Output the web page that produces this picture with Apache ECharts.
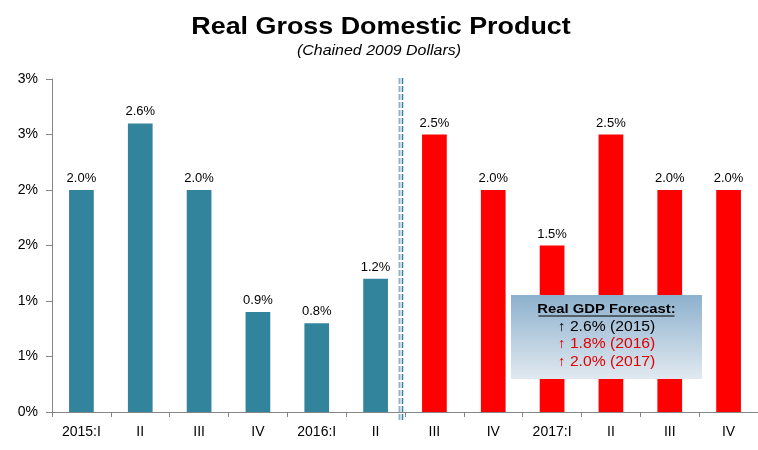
<!DOCTYPE html>
<html>
<head>
<meta charset="utf-8">
<script src="https://cdn.jsdelivr.net/npm/echarts@6/dist/echarts.min.js"></script>
<style>
html,body{margin:0;padding:0;background:#fff;}
#chart{width:758px;height:450px;}
</style>
</head>
<body>
<div id="chart"></div>
<script>
var categories = ['2015:I','II','III','IV','2016:I','II','III','IV','2017:I','II','III','IV'];
var actualValues = [2.0, 2.6, 2.0, 0.9, 0.8, 1.2, null, null, null, null, null, null];
var forecastValues = [null, null, null, null, null, null, 2.5, 2.0, 1.5, 2.5, 2.0, 2.0];
var titleText = 'Real Gross Domestic Product';
var subtitleText = '(Chained 2009 Dollars)';
var boxHeading = 'Real GDP Forecast:';
var boxLines = ['\u2191 2.6% (2015)', '\u2191 1.8% (2016)', '\u2191 2.0% (2017)'];
var boxLineColors = ['#000000', '#e00000', '#e00000'];

var FONT = "'Liberation Sans', Arial, sans-serif";
var chart = echarts.init(document.getElementById('chart'), null, {renderer: 'canvas'});

var labelOpt = {
  show: true, position: 'top', distance: 5,
  fontFamily: FONT, fontSize: 13, color: '#000',
  formatter: function (p) { return p.value == null ? '' : p.value.toFixed(1) + '%'; }
};

var option = {
  backgroundColor: '#ffffff',
  animation: false,
  grid: {left: 52, right: 0, top: 79, bottom: 38, containLabel: false},
  xAxis: {
    type: 'category',
    data: categories,
    axisLine: {lineStyle: {color: '#868686', width: 1}},
    axisTick: {show: true, length: 5, alignWithLabel: false, lineStyle: {color: '#868686'}},
    axisLabel: {fontFamily: FONT, fontSize: 14, color: '#000', margin: 13, interval: 0}
  },
  yAxis: {
    type: 'value',
    min: 0, max: 3, interval: 0.5,
    splitLine: {show: false},
    axisLine: {show: true, lineStyle: {color: '#868686', width: 1}},
    axisTick: {show: true, length: 6, inside: false, lineStyle: {color: '#868686'}},
    axisLabel: {
      fontFamily: FONT, fontSize: 14, color: '#000', margin: 14,
      formatter: function (v) { return Math.round(v) + '%'; }
    }
  },
  series: [
    {
      name: 'Actual', type: 'bar', data: actualValues,
      barWidth: '42%', barGap: '-100%',
      itemStyle: {color: '#31849B'},
      label: labelOpt
    },
    {
      name: 'Forecast', type: 'bar', data: forecastValues,
      barWidth: '42%', barGap: '-100%',
      itemStyle: {color: '#FF0000'},
      label: labelOpt
    }
  ]
};
chart.setOption(option);

var p5 = chart.convertToPixel({gridIndex: 0}, [5, 0]);
var p6 = chart.convertToPixel({gridIndex: 0}, [6, 0]);
var pTop = chart.convertToPixel({gridIndex: 0}, [0, 3]);
var divX = (p5[0] + p6[0]) / 2 - 4;
var yTop = pTop[1] - 1;
var yBot = p5[1] + 8;

var bx = 511, by = 295, bw = 191, bh = 84, bcx = bx + bw / 2;
var graphics = [
  {
    type: 'text', x: 381, y: 27, scaleX: 1.12, z: 10,
    style: {text: titleText, font: 'bold 24px ' + FONT, fill: '#000', textAlign: 'center', textVerticalAlign: 'middle'}
  },
  {
    type: 'text', x: 379, y: 51, scaleX: 1.14, z: 10,
    style: {text: subtitleText, font: 'italic 14px ' + FONT, fill: '#000', textAlign: 'center', textVerticalAlign: 'middle'}
  },
  {
    type: 'line', z: 10,
    shape: {x1: divX - 1.5, y1: yTop, x2: divX - 1.5, y2: yBot},
    style: {stroke: '#93B3C8', lineWidth: 2, lineDash: [6, 2]}
  },
  {
    type: 'line', z: 10,
    shape: {x1: divX + 1.5, y1: yTop, x2: divX + 1.5, y2: yBot},
    style: {stroke: '#31849B', lineWidth: 1.5, lineDash: [6, 2]}
  },
  {
    type: 'rect', z: 20,
    shape: {x: bx, y: by, width: bw, height: bh},
    style: {
      fill: new echarts.graphic.LinearGradient(0, 0, 0, 1, [
        {offset: 0, color: '#8DB1CE'},
        {offset: 1, color: '#E1E9F0'}
      ])
    }
  },
  {
    type: 'text', x: bcx, y: 309, scaleX: 1.14, z: 21,
    style: {text: boxHeading, font: 'bold 13px ' + FONT, fill: '#000', textAlign: 'center', textVerticalAlign: 'middle'}
  },
  {
    type: 'line', z: 21,
    shape: {x1: bcx - 68, y1: 316, x2: bcx + 68, y2: 316},
    style: {stroke: '#000', lineWidth: 1}
  }
];
for (var i = 0; i < boxLines.length; i++) {
  graphics.push({
    type: 'text', x: bcx, y: 327 + i * 17.5, scaleX: 1.12, z: 21,
    style: {text: boxLines[i], font: '14px ' + FONT, fill: boxLineColors[i], textAlign: 'center', textVerticalAlign: 'middle'}
  });
}
chart.setOption({graphic: graphics});
</script>
</body>
</html>
